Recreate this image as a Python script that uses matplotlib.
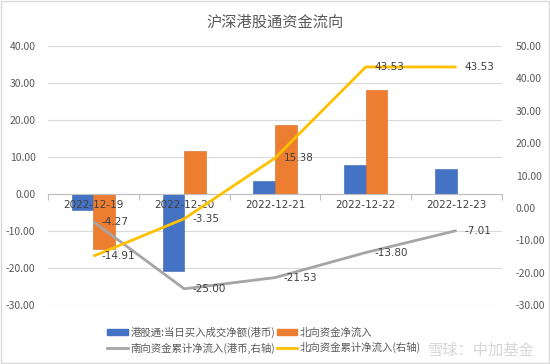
import matplotlib
matplotlib.use("Agg")
import matplotlib.pyplot as plt
from matplotlib.patches import Rectangle
from matplotlib.lines import Line2D
import numpy as np

plt.rcParams['font.family'] = ['Noto Sans CJK SC', 'DejaVu Sans']

categories = ["2022-12-19", "2022-12-20", "2022-12-21", "2022-12-22", "2022-12-23"]
south_daily = [-4.27, -20.73, 3.47, 7.73, 6.79]
north_daily = [-14.91, 11.56, 18.73, 28.15, np.nan]
south_cum = [-4.27, -25.00, -21.53, -13.80, -7.01]
north_cum = [-14.91, -3.35, 15.38, 43.53, 43.53]
left_ticks = [-30, -20, -10, 0, 10, 20, 30, 40]
right_ticks = [-30, -20, -10, 0, 10, 20, 30, 40, 50]

names = ["港股通:当日买入成交净额(港币)", "北向资金净流入",
         "南向资金累计净流入(港币,右轴)", "北向资金累计净流入(右轴)"]
c_blue, c_orange, c_gray, c_yellow = "#4472C4", "#ED7D31", "#A5A5A5", "#FFC000"
tc = "#595959"

fig = plt.figure(figsize=(5.5, 3.64), dpi=100)
ax = fig.add_axes([48/550, 1-305/364, 454/550, 259/364])
ax2 = ax.twinx()

x = np.arange(len(categories))
bw = 0.237
ax.bar(x - bw/2, south_daily, bw, color=c_blue, edgecolor="#3A62A8", linewidth=0.4, zorder=2)
ax.bar(x + bw/2, north_daily, bw, color=c_orange, edgecolor="#D06A26", linewidth=0.4, zorder=2)

ax.set_ylim(-30, 40)
ax.set_yticks(left_ticks)
ax.set_yticklabels([f"{v:.2f}" for v in left_ticks])
ax.set_xlim(-0.5, len(categories) - 0.5)
ax.grid(axis='y', color="#D9D9D9", linewidth=0.8, zorder=0)
ax.set_axisbelow(True)
for s in ['top', 'right', 'left']:
    ax.spines[s].set_visible(False)
ax.spines['bottom'].set_position(('data', 0))
ax.spines['bottom'].set_color("#BFBFBF")
ax.spines['bottom'].set_linewidth(0.8)
ax.set_xticks(x)
ax.set_xticklabels([])
for xi, lab in zip(x, categories):
    ax.annotate(lab, (xi, 0), xytext=(0, -4), textcoords='offset points', ha='center', va='top',
                fontsize=7.5, color="#404040", family=['DejaVu Sans'], zorder=10)
ax.set_xticks(np.arange(-0.5, len(categories)), minor=True)
ax.tick_params(axis='x', which='major', length=0)
ax.tick_params(axis='x', which='minor', length=4, color="#BFBFBF", width=0.8, direction='out')
ax.tick_params(axis='y', length=0, labelsize=7.5, labelcolor=tc, pad=9)

ax2.plot(x, south_cum, color=c_gray, linewidth=2, zorder=3, solid_capstyle='butt')
ax2.plot(x, north_cum, color=c_yellow, linewidth=2, zorder=3, solid_capstyle='butt')
ax2.set_ylim(-30, 50)
ax2.set_yticks(right_ticks)
ax2.set_yticklabels([f"{v:.2f}" for v in right_ticks])
ax2.tick_params(axis='y', length=0, labelsize=7.5, labelcolor=tc, pad=10)
for s in ax2.spines.values():
    s.set_visible(False)

for xi, v in zip(x, south_cum):
    ax2.annotate(f"{v:.2f}", (xi, v), xytext=(6, 0), textcoords='offset points',
                 ha='left', va='center', fontsize=7.5, color="#404040", family=['DejaVu Sans'])
for xi, v in zip(x, north_cum):
    ax2.annotate(f"{v:.2f}", (xi, v), xytext=(6, 0), textcoords='offset points',
                 ha='left', va='center', fontsize=7.5, color="#404040", family=['DejaVu Sans'])

fig.text(0.5, 1-22/364, "沪深港股通资金流向", ha='center', va='center', fontsize=11, color=tc)

h_blue = Rectangle((0, 0), 1, 1, color=c_blue)
h_orange = Rectangle((0, 0), 1, 1, color=c_orange)
h_gray = Line2D([], [], color=c_gray, lw=2)
h_yellow = Line2D([], [], color=c_yellow, lw=2)
fig.legend([h_blue, h_gray, h_orange, h_yellow], [names[0], names[2], names[1], names[3]],
           loc='center left', bbox_to_anchor=(100/550, 1-340/364), ncol=2,
           frameon=False, fontsize=7.5, labelcolor=tc, handlelength=2.0, handleheight=0.6,
           handletextpad=0.2, columnspacing=0.15, labelspacing=0.45, borderpad=0.2)

fig.text(535/550, 1-350/364, "雪球：中加基金", ha='right', va='center', fontsize=11,
         color="#CFCFCF", alpha=0.85)

fig.patches.append(Rectangle((0.002, 0.003), 0.996, 0.994, transform=fig.transFigure,
                             fill=False, edgecolor="#D9D9D9", linewidth=1))

fig.savefig("out.png", dpi=100)
